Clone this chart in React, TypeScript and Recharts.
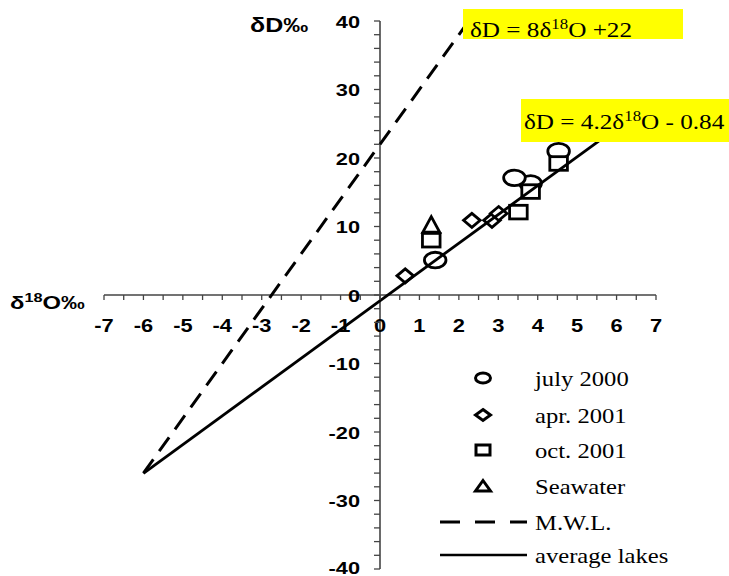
import React from "react"
import { ScatterChart, Scatter, XAxis, YAxis, ReferenceLine } from "recharts"

// measured points (δ18O, δD)
const JULY_2000 = [
  { x: 3.82, y: 16.3 },
  { x: 3.41, y: 17.1 },
  { x: 1.4, y: 5.1 },
  { x: 4.53, y: 21.0 },
]
const APR_2001 = [
  { x: 0.64, y: 2.8 },
  { x: 2.33, y: 10.9 },
  { x: 2.84, y: 10.9 },
  { x: 3.01, y: 11.9 },
]
const OCT_2001 = [
  { x: 1.3, y: 8.0 },
  { x: 3.51, y: 12.1 },
  { x: 3.82, y: 15.1 },
  { x: 4.53, y: 19.2 },
]
const SEAWATER = [{ x: 1.3, y: 10.3 }]

// line end points
const MWL = [
  { x: -6, y: -26 },
  { x: 2.25, y: 40 },
]
const LAKES = [
  { x: -6, y: -26.04 },
  { x: 6, y: 24.36 },
]

const X_TICKS = [
  -7, -6.5, -6, -5.5, -5, -4.5, -4, -3.5, -3, -2.5, -2, -1.5, -1, -0.5, 0,
  0.5, 1, 1.5, 2, 2.5, 3, 3.5, 4, 4.5, 5, 5.5, 6, 6.5, 7,
]
const Y_TICKS = [
  -40, -38, -36, -34, -32, -30, -28, -26, -24, -22, -20, -18, -16, -14, -12, -10,
  -8, -6, -4, -2, 0, 2, 4, 6, 8, 10, 12, 14, 16, 18, 20, 22, 24, 26, 28, 30, 32,
  34, 36, 38, 40,
]

const LEGEND = ["july 2000", "apr. 2001", "oct. 2001", "Seawater", "M.W.L.", "average lakes"]

const W = 729
const H = 576
const MARGIN = { top: 21, right: 73, bottom: 5, left: 102 }
const AXIS_PAD = 2
const PLOT_L = MARGIN.left + AXIS_PAD
const PLOT_B = H - MARGIN.bottom - AXIS_PAD
const ZERO_X = PLOT_L + (W - PLOT_L - MARGIN.right) / 2
const ZERO_Y = MARGIN.top + (PLOT_B - MARGIN.top) / 2

const SANS = "'Liberation Sans', Arial, sans-serif"
const SERIF = "'Liberation Serif', 'Times New Roman', serif"
const AXIS = "#444"

const circle = (sw: number, rx: number, ry: number) => (p: any) => (
  <ellipse cx={p.cx} cy={p.cy} rx={rx} ry={ry} fill="#fff" stroke="#000" strokeWidth={sw} />
)
const diamond = (sw: number, hw: number, hh: number) => (p: any) => (
  <path
    d={`M${p.cx},${p.cy - hh}L${p.cx + hw},${p.cy}L${p.cx},${p.cy + hh}L${p.cx - hw},${p.cy}Z`}
    fill="#fff"
    stroke="#000"
    strokeWidth={sw}
  />
)
const square = (sw: number, hw: number, hh: number) => (p: any) => (
  <rect x={p.cx - hw} y={p.cy - hh} width={hw * 2} height={hh * 2} fill="#fff" stroke="#000" strokeWidth={sw} />
)
const triangle = (sw: number, hw: number, up: number, down: number) => (p: any) => (
  <path
    d={`M${p.cx},${p.cy - up}L${p.cx + hw},${p.cy + down}L${p.cx - hw},${p.cy + down}Z`}
    fill="#fff"
    stroke="#000"
    strokeWidth={sw}
  />
)
const noDot = () => <g />

function XTick(props: any) {
  const { x, payload } = props
  const v = payload.value
  return (
    <g>
      <line x1={x} y1={ZERO_Y} x2={x} y2={ZERO_Y + 5} stroke={AXIS} strokeWidth={1.3} />
      {Number.isInteger(v) && (
        <text
          transform={`translate(${x},332) scale(1.25,1)`}
          textAnchor="middle"
          fontFamily={SANS}
          fontWeight="bold"
          fontSize={17.5}
          fill="#000"
        >
          {String(v)}
        </text>
      )}
    </g>
  )
}

function YTick(props: any) {
  const { y, payload } = props
  const v = payload.value
  // keep the bottom label inside the picture
  const base = Math.min(y + 6.5, H - 2)
  return (
    <g>
      <line x1={ZERO_X - 6} y1={y} x2={ZERO_X} y2={y} stroke={AXIS} strokeWidth={1.3} />
      {v % 10 === 0 && (
        <text
          transform={`translate(${ZERO_X - 20},${base}) scale(1.28,1)`}
          textAnchor="end"
          fontFamily={SANS}
          fontWeight="bold"
          fontSize={17}
          fill="#000"
        >
          {String(v)}
        </text>
      )}
    </g>
  )
}

const legendMarks = [
  circle(3, 7.5, 5),
  diamond(3, 7.5, 5.5),
  square(3, 7, 5),
  triangle(3, 7.5, 5.5, 5),
]
const LEGEND_Y = [378, 415, 450, 486, 522, 555]

export default function App() {
  return (
    <div style={{ position: "absolute", left: 0, top: 0, width: W, height: H, background: "#fff" }}>
      <ScatterChart width={W} height={H} margin={MARGIN}>
        <XAxis
          type="number"
          dataKey="x"
          domain={[-7, 7]}
          ticks={X_TICKS}
          interval={0}
          height={AXIS_PAD}
          axisLine={false}
          tickLine={false}
          tick={XTick}
          allowDataOverflow
        />
        <YAxis
          type="number"
          dataKey="y"
          domain={[-40, 40]}
          ticks={Y_TICKS}
          interval={0}
          width={AXIS_PAD}
          axisLine={false}
          tickLine={false}
          tick={YTick}
          allowDataOverflow
        />
        <ReferenceLine y={0} stroke={AXIS} strokeWidth={1.6} />
        <ReferenceLine x={0} stroke={AXIS} strokeWidth={1.6} />
        <Scatter name="july 2000" data={JULY_2000} shape={circle(2.8, 10.8, 7.8)} isAnimationActive={false} />
        <Scatter name="apr. 2001" data={APR_2001} shape={diamond(2.8, 8.3, 7)} isAnimationActive={false} />
        <Scatter name="oct. 2001" data={OCT_2001} shape={square(2.8, 8.8, 6.8)} isAnimationActive={false} />
        <Scatter name="Seawater" data={SEAWATER} shape={triangle(2.8, 8.5, 7.8, 7.8)} isAnimationActive={false} />
        <Scatter
          name="M.W.L."
          data={MWL}
          line={{ stroke: "#000", strokeWidth: 3, strokeDasharray: "17 10" }}
          shape={noDot}
          isAnimationActive={false}
        />
        <Scatter
          name="average lakes"
          data={LAKES}
          line={{ stroke: "#000", strokeWidth: 2.8 }}
          shape={noDot}
          isAnimationActive={false}
        />
      </ScatterChart>

      <svg width={W} height={H} style={{ position: "absolute", left: 0, top: 0, pointerEvents: "none" }}>
        {/* axis titles */}
        <text transform="translate(250,32) scale(1.25,1)" fontFamily={SANS} fontWeight="bold" fontSize={20}>
          {"δD‰"}
        </text>
        <text transform="translate(10,309) scale(1.25,1)" fontFamily={SANS} fontWeight="bold" fontSize={19}>
          {"δ"}
          <tspan dy={-7} fontSize={13}>
            {"18"}
          </tspan>
          <tspan dy={7}>{"O‰"}</tspan>
        </text>

        {/* equations */}
        <rect x={463} y={9} width={220} height={30} fill="#ffff00" />
        <text transform="translate(470,37) scale(1.2,1)" fontFamily={SERIF} fontSize={21}>
          {"δD = 8δ"}
          <tspan dy={-8} fontSize={14}>
            {"18"}
          </tspan>
          <tspan dy={8}>{"O +22"}</tspan>
        </text>
        <rect x={521} y={99} width={208} height={43} fill="#ffff00" />
        <text transform="translate(524,129) scale(1.2,1)" fontFamily={SERIF} fontSize={21}>
          {"δD = 4.2δ"}
          <tspan dy={-8} fontSize={14}>
            {"18"}
          </tspan>
          <tspan dy={8}>{"O - 0.84"}</tspan>
        </text>

        {/* legend */}
        {legendMarks.map((m, i) => (
          <g key={LEGEND[i]}>{m({ cx: 483, cy: LEGEND_Y[i] })}</g>
        ))}
        <line x1={440} y1={LEGEND_Y[4]} x2={527} y2={LEGEND_Y[4]} stroke="#000" strokeWidth={3} strokeDasharray="20 15" />
        <line x1={440} y1={LEGEND_Y[5]} x2={527} y2={LEGEND_Y[5]} stroke="#000" strokeWidth={2.6} />
        {LEGEND.map((t, i) => (
          <text
            key={t}
            transform={`translate(535,${LEGEND_Y[i] + 8}) scale(1.12,1)`}
            fontFamily={SERIF}
            fontSize={22}
          >
            {t}
          </text>
        ))}
      </svg>
    </div>
  )
}
